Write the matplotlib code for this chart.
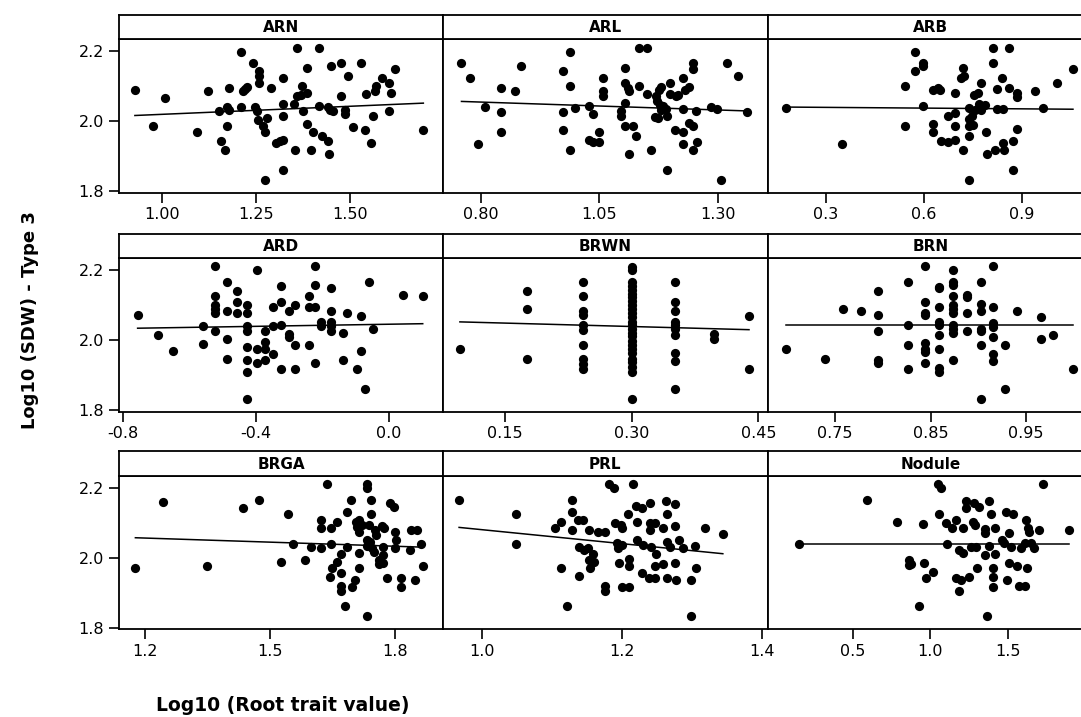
import matplotlib
matplotlib.use("Agg")
import matplotlib.pyplot as plt

# Log10 shoot dry weight (Type 3) against each log10 root trait
arn_x = [0.929, 0.976, 1.009, 1.093, 1.124, 1.152, 1.157, 1.168, 1.173, 1.179, 1.173, 1.179, 1.211, 1.211, 1.217, 1.221,
         1.226, 1.242, 1.248, 1.252, 1.259, 1.259, 1.259, 1.257, 1.268, 1.274, 1.279, 1.274, 1.290, 1.305, 1.314, 1.321,
         1.321, 1.321, 1.321, 1.321, 1.354, 1.351, 1.360, 1.360, 1.369, 1.374, 1.376, 1.387, 1.385, 1.387, 1.396, 1.401,
         1.418, 1.418, 1.427, 1.442, 1.442, 1.444, 1.447, 1.449, 1.456, 1.476, 1.476, 1.487, 1.488, 1.496, 1.509, 1.529,
         1.540, 1.544, 1.556, 1.560, 1.566, 1.568, 1.584, 1.604, 1.609, 1.604, 1.619, 1.695]
arn_y = [2.090, 1.988, 2.067, 1.970, 2.086, 2.029, 1.943, 1.919, 2.040, 2.033, 1.986, 2.095, 2.198, 2.040, 2.086, 2.093,
         2.098, 2.165, 2.040, 2.030, 2.143, 2.129, 2.110, 2.005, 1.986, 1.971, 2.011, 1.833, 2.095, 1.938, 1.943, 1.948,
         2.124, 2.050, 2.016, 1.862, 1.919, 2.050, 2.210, 2.071, 2.076, 2.102, 2.029, 2.152, 2.081, 1.992, 1.919, 1.969,
         2.210, 2.045, 1.959, 2.040, 1.943, 1.908, 2.033, 2.157, 2.029, 2.165, 2.073, 2.033, 2.022, 2.130, 1.983, 2.165,
         1.976, 2.078, 1.938, 2.016, 2.086, 2.102, 2.124, 2.108, 2.081, 2.029, 2.148, 1.976]

arl_x = [0.759, 0.776, 0.793, 0.809, 0.842, 0.842, 0.842, 0.872, 0.884, 0.974, 0.974, 0.974, 0.987, 0.987, 0.987, 0.998,
         1.029, 1.029, 1.037, 1.037, 1.050, 1.050, 1.058, 1.058, 1.058, 1.095, 1.095, 1.104, 1.104, 1.104, 1.104, 1.111,
         1.112, 1.113, 1.120, 1.127, 1.133, 1.133, 1.151, 1.151, 1.158, 1.167, 1.169, 1.172, 1.174, 1.176, 1.177, 1.179,
         1.181, 1.184, 1.191, 1.193, 1.193, 1.200, 1.200, 1.209, 1.212, 1.216, 1.226, 1.226, 1.226, 1.226, 1.230, 1.239,
         1.239, 1.247, 1.247, 1.247, 1.247, 1.254, 1.256, 1.286, 1.298, 1.306, 1.319, 1.343, 1.361]
arl_y = [2.165, 2.124, 1.936, 2.040, 2.095, 2.027, 1.970, 2.086, 2.159, 2.143, 2.027, 1.976, 2.198, 2.102, 1.919, 2.038,
         2.045, 1.948, 2.021, 1.941, 1.970, 1.941, 2.124, 2.086, 2.073, 2.029, 2.016, 2.152, 2.108, 2.052, 1.988, 2.095,
         1.908, 2.086, 1.986, 1.959, 2.210, 2.102, 2.210, 2.079, 1.919, 2.012, 2.071, 2.057, 2.010, 2.090, 2.048, 2.098,
         2.033, 2.043, 2.035, 2.016, 1.862, 2.108, 2.079, 1.976, 2.071, 2.076, 2.124, 2.035, 1.970, 1.936, 2.090, 2.098,
         1.995, 2.165, 2.148, 1.988, 1.919, 2.029, 1.941, 2.041, 2.035, 1.833, 2.165, 2.130, 2.027]

arb_x = [0.177, 0.348, 0.541, 0.541, 0.572, 0.572, 0.597, 0.597, 0.597, 0.628, 0.628, 0.628, 0.643, 0.648, 0.651, 0.674,
         0.674, 0.694, 0.694, 0.694, 0.696, 0.720, 0.714, 0.723, 0.720, 0.737, 0.737, 0.737, 0.737, 0.737, 0.747, 0.750,
         0.753, 0.757, 0.765, 0.770, 0.774, 0.776, 0.786, 0.791, 0.793, 0.811, 0.811, 0.816, 0.823, 0.823, 0.840, 0.842,
         0.842, 0.845, 0.860, 0.872, 0.872, 0.885, 0.886, 0.886, 0.941, 0.964, 1.007, 1.056, 0.860]
arb_y = [2.038, 1.936, 1.988, 2.102, 2.198, 2.143, 2.165, 2.159, 2.043, 2.090, 1.993, 1.971, 2.095, 2.090, 1.943, 1.941,
         2.016, 2.024, 2.081, 1.988, 1.948, 2.152, 2.124, 2.129, 1.919, 2.038, 2.007, 1.986, 1.957, 1.833, 2.014, 1.990,
         2.076, 2.033, 2.081, 2.050, 2.110, 2.033, 2.048, 1.970, 1.908, 2.210, 2.165, 1.919, 2.092, 2.035, 2.124, 2.035,
         1.938, 1.919, 2.095, 1.943, 1.862, 2.081, 2.070, 1.978, 2.086, 2.038, 2.108, 2.148, 2.210]

ard_x = [-0.757, -0.697, -0.651, -0.559, -0.559, -0.523, -0.523, -0.523, -0.523, -0.523, -0.523, -0.488, -0.488, -0.488,
         -0.488, -0.458, -0.458, -0.458, -0.428, -0.428, -0.428, -0.428, -0.428, -0.428, -0.428, -0.428, -0.398, -0.398,
         -0.398, -0.373, -0.373, -0.373, -0.373, -0.348, -0.348, -0.348, -0.326, -0.326, -0.326, -0.326, -0.301, -0.301,
         -0.301, -0.283, -0.283, -0.283, -0.240, -0.240, -0.240, -0.222, -0.222, -0.222, -0.222, -0.204, -0.204, -0.175,
         -0.175, -0.175, -0.175, -0.175, -0.137, -0.137, -0.125, -0.097, -0.084, -0.084, -0.072, -0.060, -0.047, 0.042,
         0.102]
ard_y = [2.073, 2.016, 1.970, 2.040, 1.989, 2.211, 2.126, 2.100, 2.090, 2.079, 2.028, 2.165, 2.085, 2.005, 1.948, 2.142,
         2.108, 2.079, 2.102, 2.079, 2.040, 2.028, 1.982, 1.943, 1.910, 1.833, 2.200, 1.976, 1.936, 2.028, 1.995, 1.976,
         1.943, 2.096, 2.040, 1.961, 2.154, 2.108, 2.045, 1.919, 2.085, 2.019, 2.010, 2.102, 1.988, 1.919, 2.126, 2.096,
         1.988, 2.211, 2.159, 2.096, 1.936, 2.052, 2.040, 2.148, 2.085, 2.052, 2.040, 2.028, 2.022, 1.943, 2.079, 1.919,
         2.070, 1.970, 1.862, 2.165, 2.033, 2.130, 2.126]

brwn_x = [0.097,
          0.176, 0.176, 0.176,
          0.243, 0.243, 0.243, 0.243, 0.243, 0.243, 0.243, 0.243, 0.243, 0.243,
          0.301, 0.301, 0.301, 0.301, 0.301, 0.301, 0.301, 0.301, 0.301, 0.301, 0.301, 0.301, 0.301,
          0.301, 0.301, 0.301, 0.301, 0.301, 0.301, 0.301, 0.301, 0.301, 0.301, 0.301, 0.301, 0.301,
          0.352, 0.352, 0.352, 0.352, 0.352, 0.352, 0.352, 0.352, 0.352, 0.352,
          0.398, 0.398,
          0.439, 0.439]
brwn_y = [1.976,
          2.142, 2.090, 1.948,
          2.165, 2.126, 2.083, 2.073, 2.043, 2.029, 1.988, 1.946, 1.933, 1.919,
          2.210, 2.200, 2.167, 2.155, 2.145, 2.133, 2.124, 2.111, 2.100, 2.090, 2.079, 2.066, 2.052,
          2.043, 2.033, 2.022, 2.012, 1.997, 1.986, 1.974, 1.965, 1.948, 1.938, 1.924, 1.910, 1.833,
          2.165, 2.110, 2.083, 2.052, 2.043, 2.031, 2.014, 1.965, 1.940, 1.862,
          2.019, 2.003,
          2.069, 1.919]

brn_x = [0.699, 0.740, 0.759, 0.777, 0.795, 0.795, 0.795, 0.795, 0.795, 0.827, 0.827, 0.827, 0.827, 0.844, 0.844, 0.844,
         0.844, 0.844, 0.844, 0.844, 0.844, 0.859, 0.859, 0.859, 0.859, 0.859, 0.859, 0.859, 0.859, 0.859, 0.874, 0.874,
         0.874, 0.874, 0.874, 0.874, 0.874, 0.874, 0.874, 0.874, 0.874, 0.888, 0.888, 0.888, 0.888, 0.903, 0.903, 0.903,
         0.903, 0.903, 0.903, 0.903, 0.915, 0.915, 0.915, 0.915, 0.915, 0.915, 0.915, 0.928, 0.928, 0.940, 0.965, 0.965,
         0.978, 0.999]
brn_y = [1.976, 1.948, 2.090, 2.085, 2.142, 2.073, 2.028, 1.945, 1.936, 2.165, 2.043, 1.988, 1.919, 2.211, 2.108, 2.079,
         2.073, 1.993, 1.976, 1.967, 1.936, 2.153, 2.148, 2.096, 2.052, 2.043, 2.016, 1.974, 1.921, 1.910, 2.200, 2.165,
         2.157, 2.126, 2.102, 2.090, 2.079, 2.043, 2.033, 2.022, 1.944, 2.130, 2.124, 2.079, 2.028, 2.165, 2.104, 2.085,
         2.033, 2.028, 1.988, 1.833, 2.211, 2.096, 2.050, 2.038, 2.010, 1.962, 1.940, 1.988, 1.862, 2.085, 2.068, 2.005,
         2.016, 1.919]

brga_x = [1.177, 1.244, 1.348, 1.435, 1.474, 1.526, 1.542, 1.554, 1.584, 1.597, 1.621, 1.621, 1.621, 1.636, 1.644, 1.645,
          1.645, 1.648, 1.661, 1.661, 1.669, 1.669, 1.669, 1.669, 1.680, 1.684, 1.685, 1.693, 1.696, 1.704, 1.706, 1.708,
          1.712, 1.712, 1.714, 1.714, 1.720, 1.732, 1.732, 1.732, 1.732, 1.732, 1.736, 1.740, 1.742, 1.742, 1.744, 1.748,
          1.752, 1.754, 1.760, 1.762, 1.768, 1.770, 1.770, 1.770, 1.772, 1.780, 1.788, 1.798, 1.800, 1.800, 1.802, 1.813,
          1.813, 1.834, 1.838, 1.847, 1.853, 1.861, 1.866]
brga_y = [1.970, 2.158, 1.976, 2.141, 2.164, 1.987, 2.125, 2.038, 1.993, 2.031, 2.108, 2.084, 2.027, 2.210, 1.944, 2.084,
          2.038, 1.970, 2.103, 1.987, 2.010, 1.957, 1.919, 1.906, 1.862, 2.130, 2.031, 2.164, 1.917, 1.936, 2.103, 2.089,
          2.108, 2.074, 2.014, 1.970, 2.093, 2.210, 2.198, 2.052, 2.033, 1.833, 2.093, 2.046, 2.164, 2.125, 2.027, 2.017,
          2.079, 2.065, 1.993, 1.982, 2.090, 2.031, 2.008, 1.984, 2.084, 1.941, 2.155, 2.146, 2.027, 2.074, 2.050, 1.941,
          1.917, 2.022, 2.079, 1.936, 2.079, 2.039, 1.976]

prl_x = [0.967, 1.049, 1.049, 1.104, 1.112, 1.112, 1.121, 1.129, 1.129, 1.129, 1.137, 1.139, 1.139, 1.144, 1.145, 1.151,
         1.153, 1.153, 1.154, 1.159, 1.160, 1.166, 1.175, 1.175, 1.175, 1.181, 1.188, 1.190, 1.193, 1.194, 1.196, 1.199,
         1.200, 1.200, 1.200, 1.209, 1.210, 1.210, 1.210, 1.216, 1.220, 1.221, 1.221, 1.228, 1.229, 1.230, 1.239, 1.240,
         1.240, 1.240, 1.242, 1.247, 1.247, 1.247, 1.248, 1.258, 1.258, 1.263, 1.264, 1.264, 1.264, 1.268, 1.275, 1.275,
         1.275, 1.277, 1.281, 1.287, 1.298, 1.298, 1.304, 1.305, 1.318, 1.344]
prl_y = [2.164, 2.124, 2.038, 2.084, 2.103, 1.970, 1.862, 2.164, 2.130, 2.079, 2.108, 2.031, 1.948, 2.108, 2.022, 2.027,
         2.079, 1.993, 1.970, 2.010, 1.989, 2.074, 2.074, 1.920, 1.906, 2.210, 2.198, 2.098, 2.041, 2.027, 1.986, 2.093,
         2.084, 2.036, 1.917, 2.125, 1.997, 1.976, 1.917, 2.210, 2.149, 2.103, 2.052, 2.141, 1.957, 2.036, 1.941, 2.098,
         2.079, 2.157, 2.031, 2.100, 1.941, 1.976, 2.012, 1.982, 2.084, 2.163, 2.125, 2.046, 1.941, 2.030, 2.153, 2.090,
         1.986, 1.936, 2.050, 2.027, 1.936, 1.833, 2.033, 1.970, 2.084, 2.067]

nodule_x = [0.154, 0.593, 0.786, 0.861, 0.861, 0.878, 0.925, 0.953, 0.959, 0.974, 1.017, 1.049, 1.066, 1.054, 1.103, 1.109,
            1.139, 1.167, 1.167, 1.182, 1.182, 1.199, 1.210, 1.210, 1.231, 1.231, 1.246, 1.259, 1.274, 1.281, 1.289, 1.296,
            1.302, 1.310, 1.349, 1.349, 1.353, 1.366, 1.375, 1.375, 1.388, 1.403, 1.403, 1.403, 1.413, 1.413, 1.460, 1.473,
            1.488, 1.495, 1.503, 1.503, 1.516, 1.531, 1.559, 1.567, 1.580, 1.606, 1.610, 1.617, 1.623, 1.627, 1.632, 1.649,
            1.666, 1.696, 1.724, 1.889]
nodule_y = [2.038, 2.164, 2.101, 1.993, 1.979, 1.982, 1.862, 2.095, 1.986, 1.943, 1.958, 2.210, 2.198, 2.125, 2.098, 2.038,
            2.084, 2.108, 1.943, 2.022, 1.906, 1.936, 2.015, 2.084, 2.163, 2.141, 1.946, 2.031, 2.103, 2.157, 2.093, 2.031,
            1.970, 2.146, 2.008, 2.070, 2.081, 1.833, 2.163, 2.033, 2.125, 1.970, 1.946, 1.917, 2.084, 2.010, 2.050, 2.041,
            2.131, 1.936, 2.071, 1.986, 2.031, 2.125, 1.976, 1.919, 2.027, 1.919, 2.041, 2.108, 1.970, 2.084, 2.074, 2.043,
            2.027, 2.079, 2.210, 2.079]

# fitted regression lines (slope, intercept)
fit_slope = [0.046, -0.045, -0.007, 0.015, -0.065, 0.0, -0.039, -0.199, 0.0]
fit_intercept = [1.974, 2.091, 2.042, 2.046, 2.059, 2.043, 2.103, 2.279, 2.039]

titles = ["ARN", "ARL", "ARB", "ARD", "BRWN", "BRN", "BRGA", "PRL", "Nodule"]
xs = [arn_x, arl_x, arb_x, ard_x, brwn_x, brn_x, brga_x, prl_x, nodule_x]
ys = [arn_y, arl_y, arb_y, ard_y, brwn_y, brn_y, brga_y, prl_y, nodule_y]
xlims = [(0.886, 1.748), (0.720, 1.405), (0.124, 1.117),
         (-0.814, 0.164), (0.077, 0.461), (0.6805, 1.0197),
         (1.137, 1.915), (0.944, 1.408), (-0.043, 2.045)]
xticks = [["1.00", "1.25", "1.50"], ["0.80", "1.05", "1.30"], ["0.3", "0.6", "0.9"],
          ["-0.8", "-0.4", "0.0"], ["0.15", "0.30", "0.45"], ["0.75", "0.85", "0.95"],
          ["1.2", "1.5", "1.8"], ["1.0", "1.2", "1.4"], ["0.5", "1.0", "1.5"]]
yticks = [1.8, 2.0, 2.2]
ylim = (1.796, 2.234)

W, H = 1081, 717
fig = plt.figure(figsize=(W / 100, H / 100), dpi=100)

col_left = [118.7, 443.0, 768.3]
col_w = 324.6
row_top = [39.3, 258.3, 475.7]   # top of plotting area, px from top
row_h = 153.6
strip_h = 24.5
spine_w = 1.3

for i, title in enumerate(titles):
    r, c = divmod(i, 3)
    left = col_left[c] / W
    bottom = 1 - (row_top[r] + row_h) / H
    ax = fig.add_axes([left, bottom, col_w / W, row_h / H])
    ax.scatter(xs[i], ys[i], s=44, color="black", linewidths=0, zorder=3)

    x0, x1 = min(xs[i]), max(xs[i])
    ax.plot([x0, x1], [fit_intercept[i] + fit_slope[i] * x0, fit_intercept[i] + fit_slope[i] * x1],
            color="black", lw=1.1, zorder=2)

    ax.set_xlim(*xlims[i])
    ax.set_ylim(*ylim)
    ax.set_xticks([float(t) for t in xticks[i]])
    ax.set_xticklabels(xticks[i])
    ax.set_yticks(yticks)
    ax.tick_params(direction="out", length=7, width=1.2, labelsize=11.5, pad=3.5, colors="black")
    if c == 0:
        ax.set_yticklabels([f"{v:.1f}" for v in yticks])
    else:
        ax.tick_params(axis="y", left=False, labelleft=False)
    for sp in ax.spines.values():
        sp.set_linewidth(spine_w)

    # title strip above each panel
    sax = fig.add_axes([left, 1 - row_top[r] / H, col_w / W, strip_h / H])
    sax.set_xticks([])
    sax.set_yticks([])
    for sp in sax.spines.values():
        sp.set_linewidth(spine_w)
    sax.text(0.5, 0.47, title, transform=sax.transAxes, ha="center", va="center",
             fontsize=11, fontweight="bold")

fig.text(0.028, 0.554, "Log10 (SDW) - Type 3", rotation=90, ha="center", va="center",
         fontsize=13, fontweight="bold")
fig.text(0.262, 0.016, "Log10 (Root trait value)", ha="center", va="center",
         fontsize=13.5, fontweight="bold")

fig.savefig("out.png", dpi=100)
